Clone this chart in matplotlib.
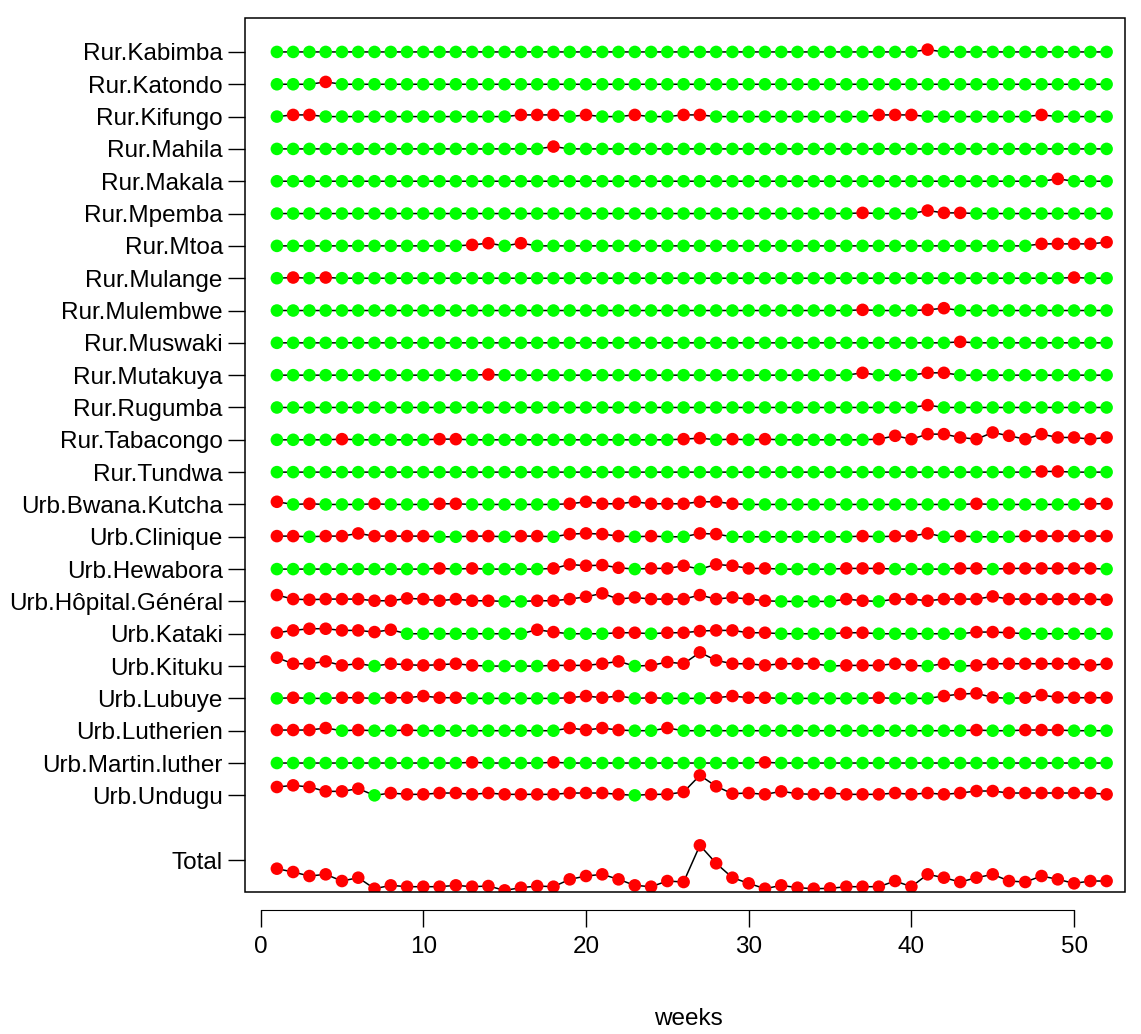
import numpy as np
import matplotlib
matplotlib.use("Agg")
import matplotlib.pyplot as plt
from matplotlib.patches import Rectangle

plt.rcParams['font.family'] = ['Liberation Sans', 'DejaVu Sans']

# weekly level per district (0 = no alert, green; >0 = alert, red, height ~ level)
weeks = list(range(1, 53))

districts = ["Rur.Kabimba", "Rur.Katondo", "Rur.Kifungo", "Rur.Mahila", "Rur.Makala",
             "Rur.Mpemba", "Rur.Mtoa", "Rur.Mulange", "Rur.Mulembwe", "Rur.Muswaki",
             "Rur.Mutakuya", "Rur.Rugumba", "Rur.Tabacongo", "Rur.Tundwa",
             "Urb.Bwana.Kutcha", "Urb.Clinique", "Urb.Hewabora", "Urb.Hôpital.Général",
             "Urb.Kataki", "Urb.Kituku", "Urb.Lubuye", "Urb.Lutherien",
             "Urb.Martin.luther", "Urb.Undugu"]

kabimba = [0,0,0,0,0,0,0,0,0,0,0,0,0, 0,0,0,0,0,0,0,0,0,0,0,0,0,
           0,0,0,0,0,0,0,0,0,0,0,0,0, 0,7,0,0,0,0,0,0,0,0,0,0,0]
katondo = [0,0,0,7,0,0,0,0,0,0,0,0,0, 0,0,0,0,0,0,0,0,0,0,0,0,0,
           0,0,0,0,0,0,0,0,0,0,0,0,0, 0,0,0,0,0,0,0,0,0,0,0,0,0]
kifungo = [0,5,5,0,0,0,0,0,0,0,0,0,0, 0,0,5,5,5,0,5,0,0,5,0,0,5,
           5,0,0,0,0,0,0,0,0,0,0,5,5, 5,0,0,0,0,0,0,0,5,0,0,0,0]
mahila = [0,0,0,0,0,0,0,0,0,0,0,0,0, 0,0,0,0,7,0,0,0,0,0,0,0,0,
          0,0,0,0,0,0,0,0,0,0,0,0,0, 0,0,0,0,0,0,0,0,0,0,0,0,0]
makala = [0,0,0,0,0,0,0,0,0,0,0,0,0, 0,0,0,0,0,0,0,0,0,0,0,0,0,
          0,0,0,0,0,0,0,0,0,0,0,0,0, 0,0,0,0,0,0,0,0,0,7,0,0,0]
mpemba = [0,0,0,0,0,0,0,0,0,0,0,0,0, 0,0,0,0,0,0,0,0,0,0,0,0,0,
          0,0,0,0,0,0,0,0,0,0,2,0,0, 0,9,2,2,0,0,0,0,0,0,0,0,0]
mtoa = [0,0,0,0,0,0,0,0,0,0,0,0,3, 8,0,8,0,0,0,0,0,0,0,0,0,0,
        0,0,0,0,0,0,0,0,0,0,0,0,0, 0,0,0,0,0,0,0,0,6,6,6,6,11]
mulange = [0,2,0,2,0,0,0,0,0,0,0,0,0, 0,0,0,0,0,0,0,0,0,0,0,0,0,
           0,0,0,0,0,0,0,0,0,0,0,0,0, 0,0,0,0,0,0,0,0,0,0,2,0,0]
mulembwe = [0,0,0,0,0,0,0,0,0,0,0,0,0, 0,0,0,0,0,0,0,0,0,0,0,0,0,
            0,0,0,0,0,0,0,0,0,0,2,0,0, 0,2,7,0,0,0,0,0,0,0,0,0,0]
muswaki = [0,0,0,0,0,0,0,0,0,0,0,0,0, 0,0,0,0,0,0,0,0,0,0,0,0,0,
           0,0,0,0,0,0,0,0,0,0,0,0,0, 0,0,0,3,0,0,0,0,0,0,0,0,0]
mutakuya = [0,0,0,0,0,0,0,0,0,0,0,0,0, 2,0,0,0,0,0,0,0,0,0,0,0,0,
            0,0,0,0,0,0,0,0,0,0,7,0,0, 0,7,7,0,0,0,0,0,0,0,0,0,0]
rugumba = [0,0,0,0,0,0,0,0,0,0,0,0,0, 0,0,0,0,0,0,0,0,0,0,0,0,0,
           0,0,0,0,0,0,0,0,0,0,0,0,0, 0,7,0,0,0,0,0,0,0,0,0,0,0]
tabacongo = [0,0,0,0,2,0,0,0,0,0,2,2,0, 0,0,0,0,0,0,0,0,0,0,0,0,2,
             5,0,2,0,2,0,0,0,0,0,0,2,12, 2,17,17,7,2,22,12,2,17,7,7,2,7]
tundwa = [0,0,0,0,0,0,0,0,0,0,0,0,0, 0,0,0,0,0,0,0,0,0,0,0,0,0,
          0,0,0,0,0,0,0,0,0,0,0,0,0, 0,0,0,0,0,0,0,0,2,2,0,0,0]
bwana_kutcha = [8,0,2,0,0,0,2,0,0,0,2,2,0, 0,0,0,0,0,2,8,2,2,8,2,2,2,
                8,8,2,0,0,0,0,0,0,0,0,0,0, 0,0,0,0,2,0,0,0,0,0,0,2,2]
clinique = [2,2,0,2,2,10,2,2,2,2,0,0,2, 2,0,2,2,0,8,10,8,2,0,2,0,0,
            10,8,0,0,0,0,0,0,0,0,2,0,2, 2,10,0,2,0,0,0,2,2,2,2,2,2]
hewabora = [0,0,0,0,0,0,0,0,0,0,2,0,2, 0,0,0,0,2,14,10,12,4,0,2,2,10,
            0,14,10,2,2,0,0,0,0,2,2,2,0, 0,0,0,2,2,0,2,2,2,2,2,2,0]
hopital = [19,7,5,7,7,7,2,2,9,7,2,7,2, 2,0,0,2,2,7,14,24,7,12,7,7,7,
           19,7,12,7,2,0,0,0,0,7,2,0,7, 7,2,7,7,7,15,7,7,7,7,7,7,5]
kataki = [3,10,15,15,10,10,5,12,0,0,0,0,0, 0,0,0,12,5,0,0,0,3,3,0,3,3,
          8,10,10,3,3,0,0,0,0,3,3,0,0, 0,0,0,0,5,5,3,0,0,0,0,0,0]
kituku = [25,7,7,14,2,7,0,7,4,2,4,7,2, 0,0,0,0,2,2,2,7,14,0,2,12,7,
          41,17,7,7,2,7,7,7,0,2,2,2,7, 2,0,7,0,2,7,7,7,7,7,7,2,7]
lubuye = [0,2,0,0,2,2,0,2,2,7,2,2,0, 0,0,0,0,0,2,7,2,7,0,2,0,0,
          0,2,7,2,2,0,0,0,0,0,0,2,0, 0,0,7,13,15,3,0,2,10,3,2,2,2]
lutherien = [2,2,2,8,0,2,0,0,2,0,0,0,0, 0,0,0,0,0,8,2,8,2,0,0,8,0,
             0,0,0,0,0,0,0,0,0,0,0,0,0, 0,0,0,0,2,0,0,2,2,2,0,0,0]
martin_luther = [0,0,0,0,0,0,0,0,0,0,0,0,2, 0,0,0,0,2,0,0,0,0,0,0,0,0,
                 0,0,0,0,2,0,0,0,0,0,0,0,0, 0,0,0,0,0,0,0,0,0,0,0,0,0]
undugu = [25,30,25,12,12,20,0,7,3,3,7,7,3, 7,3,3,3,3,7,7,7,3,0,3,3,10,
          60,27,5,7,3,12,5,3,7,3,3,3,7, 3,7,3,7,13,13,7,7,7,7,7,7,3]
total = [67,57,45,50,30,40,7,17,13,13,13,17,13, 15,2,10,15,13,35,45,50,35,17,13,30,27,
         137,83,40,23,7,17,10,7,8,13,13,13,30, 13,50,40,27,40,50,30,27,45,35,23,30,30]

rows = [kabimba, katondo, kifungo, mahila, makala, mpemba, mtoa, mulange, mulembwe,
        muswaki, mutakuya, rugumba, tabacongo, tundwa, bwana_kutcha, clinique,
        hewabora, hopital, kataki, kituku, lubuye, lutherien, martin_luther, undugu]

xticks = [0, 10, 20, 30, 40, 50]

GREEN = "#00ff00"
RED = "#ff0000"
scale = 1 / 96.9   # level -> row units

fig = plt.figure(figsize=(11.41, 10.34), dpi=100)
ax = fig.add_axes([245 / 1141, 1 - 892 / 1034, 880 / 1141, 874 / 1034])

# R-like axis: x axis detached below the box
ax.spines["bottom"].set_position(("outward", 13))
ax.spines["left"].set_visible(False)
ax.spines["right"].set_visible(False)
ax.spines["top"].set_visible(False)

x = np.array(weeks)
n = len(rows)
ypos = []
for i, vals in enumerate(rows):
    base = n - i
    ypos.append(base)
    v = np.array(vals)
    y = base + v * scale
    cols = [RED if k > 0 else GREEN for k in v]
    ax.plot(x, y, color="black", lw=1.1, zorder=2)
    ax.scatter(x, y, s=82, c=cols, edgecolors="none", zorder=3)

# total at the bottom
tv = np.array(total)
ty = -1.96 + tv * scale
ax.plot(x, ty, color="black", lw=1.1, zorder=2)
ax.scatter(x, ty, s=82, c=RED, edgecolors="none", zorder=3)

ax.set_xlim(-0.96, 53.13)
ax.set_ylim(-1.99, 25.05)

ax.set_yticks(ypos + [-1])
ax.set_yticklabels(districts + ["Total"])
ax.tick_params(axis="y", length=12, width=1, pad=4, labelsize=17.5)

ax.set_xticks(xticks)
ax.set_xticklabels([str(t) for t in xticks])
ax.tick_params(axis="x", length=12, width=1, pad=7, labelsize=17.5)
ax.spines["bottom"].set_bounds(0, 50)

ax.add_patch(Rectangle((0, 0), 1, 1, transform=ax.transAxes, fill=False,
                       lw=1.1, edgecolor="black", clip_on=False, zorder=5))

ax.set_xlabel("weeks", fontsize=17.5)
ax.xaxis.set_label_coords((688 - 245) / 880, (892 - 1008) / 874)

fig.savefig("out.png", dpi=100)
